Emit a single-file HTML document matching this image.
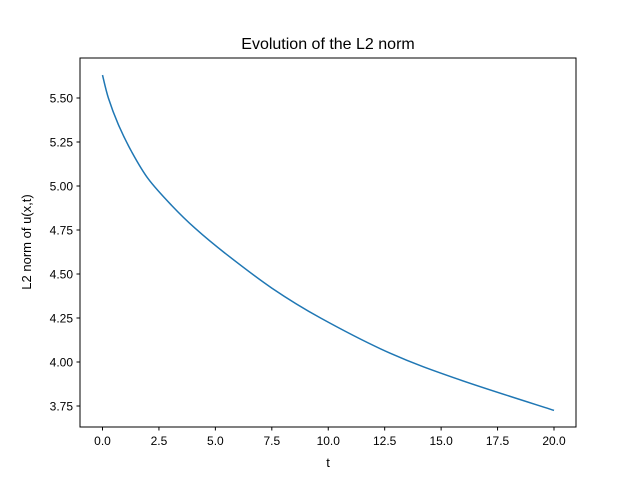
<!DOCTYPE html>
<html><head><meta charset="utf-8"><style>
body{margin:0;background:#fff}
svg text{font-family:"Liberation Sans","DejaVu Sans",sans-serif;fill:#000}
</style></head><body>
<svg id="chart" width="640" height="480">
<rect x="0" y="0" width="640" height="480" fill="#fff"/>
<text x="328" y="49" font-size="16" text-anchor="middle">Evolution of the L2 norm</text>
<g id="xticks"></g><g id="yticks"></g>
<path id="line" fill="none" stroke="#1f77b4" stroke-width="1.5"/>
<rect x="80" y="58" width="496" height="369" fill="none" stroke="#000" stroke-width="1"/>
<text x="328" y="467" font-size="13" text-anchor="middle">t</text>
<text transform="translate(31,242) rotate(-90)" font-size="13" text-anchor="middle">L2 norm of u(x,t)</text>
</svg>
<script>
const tValues=[0,0.26,0.7,1.29,2.03,3.06,4.1,5.43,7.5,9.66,12.74,15.8,20];
const normValues=[5.63,5.50,5.35,5.195,5.04,4.89,4.76,4.618,4.42,4.25,4.05,3.90,3.725];
const xTickLabels=["0.0","2.5","5.0","7.5","10.0","12.5","15.0","17.5","20.0"];
const yTickLabels=["3.75","4.00","4.25","4.50","4.75","5.00","5.25","5.50"];
const X=v=>102.5+(v-0)*(554-102.5)/20;
const Y=v=>406-(v-3.75)*(406-98)/1.75;
const ns="http://www.w3.org/2000/svg";
const xt=document.getElementById('xticks'),yt=document.getElementById('yticks');
xTickLabels.forEach(l=>{const x=X(parseFloat(l));
const ln=document.createElementNS(ns,'line');ln.setAttribute('x1',x);ln.setAttribute('x2',x);ln.setAttribute('y1',427);ln.setAttribute('y2',430.5);ln.setAttribute('stroke','#000');


xt.appendChild(ln);
const t=document.createElementNS(ns,'text');t.setAttribute('x',x);t.setAttribute('y',445);t.setAttribute('font-size','12');t.setAttribute('text-anchor','middle');t.textContent=l;


xt.appendChild(t);});
yTickLabels.forEach(l=>{const y=Y(parseFloat(l));
const ln=document.createElementNS(ns,'line');ln.setAttribute('x1',76.5);ln.setAttribute('x2',80);ln.setAttribute('y1',y);ln.setAttribute('y2',y);ln.setAttribute('stroke','#000');


yt.appendChild(ln);
const t=document.createElementNS(ns,'text');t.setAttribute('x',73);t.setAttribute('y',y+4.5);t.setAttribute('font-size','12');t.setAttribute('text-anchor','end');t.textContent=l;


yt.appendChild(t);});
const P=tValues.map((t,i)=>[X(t),Y(normValues[i])]);
let d='M'+P[0][0].toFixed(2)+','+P[0][1].toFixed(2);
for(let i=0;i<P.length-1;i++){
  const p0=P[Math.max(0,i-1)],p1=P[i],p2=P[i+1],p3=P[Math.min(P.length-1,i+2)];
  const c1=[p1[0]+(p2[0]-p0[0])/6,p1[1]+(p2[1]-p0[1])/6];
  const c2=[p2[0]-(p3[0]-p1[0])/6,p2[1]-(p3[1]-p1[1])/6];
  d+='C'+c1.map(v=>v.toFixed(2)).join(',')+' '+c2.map(v=>v.toFixed(2)).join(',')+' '+p2.map(v=>v.toFixed(2)).join(',');
}
document.getElementById('line').setAttribute('d',d);
</script>
</body></html>
